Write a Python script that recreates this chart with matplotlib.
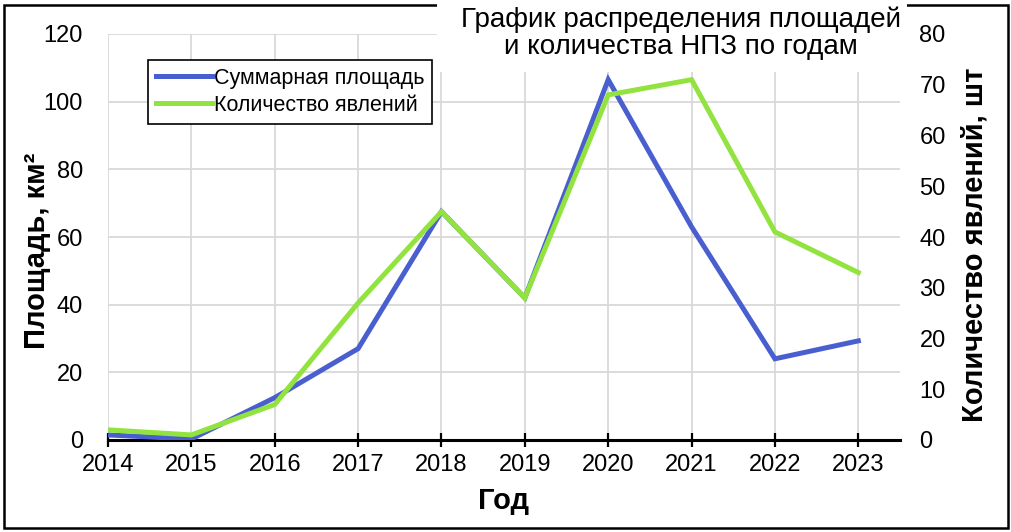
import numpy as np
import matplotlib.pyplot as plt
from matplotlib.patches import Rectangle

plt.rcParams['font.family'] = ['Liberation Sans', 'DejaVu Sans']

years = [2014, 2015, 2016, 2017, 2018, 2019, 2020, 2021, 2022, 2023]
area_km2 = [1.5, 0.3, 12.5, 27, 67.5, 42, 106.5, 63, 24, 29.3]
n_events = [2, 1, 7, 27, 45, 28, 68, 71, 41, 33]

left_ticks = [0, 20, 40, 60, 80, 100, 120]
right_ticks = [0, 10, 20, 30, 40, 50, 60, 70, 80]

BLUE = '#4a5fcf'
GREEN = '#92e33f'
GRID = '#d9d9d9'

fig = plt.figure(figsize=(10.11, 5.32), dpi=100)
ax = fig.add_axes([108 / 1011, 1 - 440 / 532, 792 / 1011, 406 / 532])
ax2 = ax.twinx()

l1, = ax.plot(years, area_km2, color=BLUE, lw=3.6, solid_joinstyle='miter', zorder=3)
l2, = ax2.plot(years, n_events, color=GREEN, lw=3.6, solid_joinstyle='miter', zorder=3)

ax.set_xlim(2014, 2023.5)
ax.set_ylim(0, 120)
ax2.set_ylim(0, 80)
ax.set_xticks(years)
ax.set_yticks(left_ticks)
ax2.set_yticks(right_ticks)

ax.grid(True, color=GRID, lw=1.3)
ax.set_axisbelow(True)
for a in (ax, ax2):
    for s in ('top', 'left', 'right'):
        a.spines[s].set_visible(False)
ax.spines['bottom'].set_linewidth(2.2)
ax2.spines['bottom'].set_visible(False)

ax.tick_params(axis='x', direction='inout', length=10, width=1.6, pad=5, labelsize=17)
ax.tick_params(axis='y', length=0, pad=18, labelsize=17)
ax2.tick_params(axis='y', length=0, pad=14, labelsize=17)

ax.set_xlabel('Год', fontsize=21, fontweight='bold', labelpad=8)
ax.set_ylabel('Площадь, км²', fontsize=21, fontweight='bold')
ax2.set_ylabel('Количество явлений, шт', fontsize=21, fontweight='bold')
ax.yaxis.set_label_coords(-0.072, 0.465)
ax2.yaxis.set_label_coords(1.077, 0.48)

leg = ax2.legend([l1, l2], ['Суммарная площадь', 'Количество явлений'],
                 loc='upper left', bbox_to_anchor=(40 / 792, 1 - 26 / 406),
                 fontsize=15.5, frameon=True, fancybox=False, framealpha=1,
                 handlelength=2.6, handletextpad=0.1, borderpad=0.35,
                 labelspacing=0.3, borderaxespad=0)
leg.get_frame().set_edgecolor('black')
leg.get_frame().set_linewidth(1.2)

# outer frame and the title block sitting over it
fig.add_artist(Rectangle((4 / 1011, 4 / 532), 1004 / 1011, 523 / 532,
                         transform=fig.transFigure, fill=False,
                         edgecolor='black', lw=1.8, zorder=1))
fig.add_artist(Rectangle((437 / 1011, 1 - 72 / 532), 470 / 1011, 72 / 532,
                         transform=fig.transFigure, facecolor='white',
                         edgecolor='none', zorder=2))
fig.text(681 / 1011, 1 - 33 / 532,
         'График распределения площадей\nи количества НПЗ по годам',
         ha='center', va='center', fontsize=20, linespacing=1.05, zorder=3)

fig.savefig('out.png', dpi=100)
